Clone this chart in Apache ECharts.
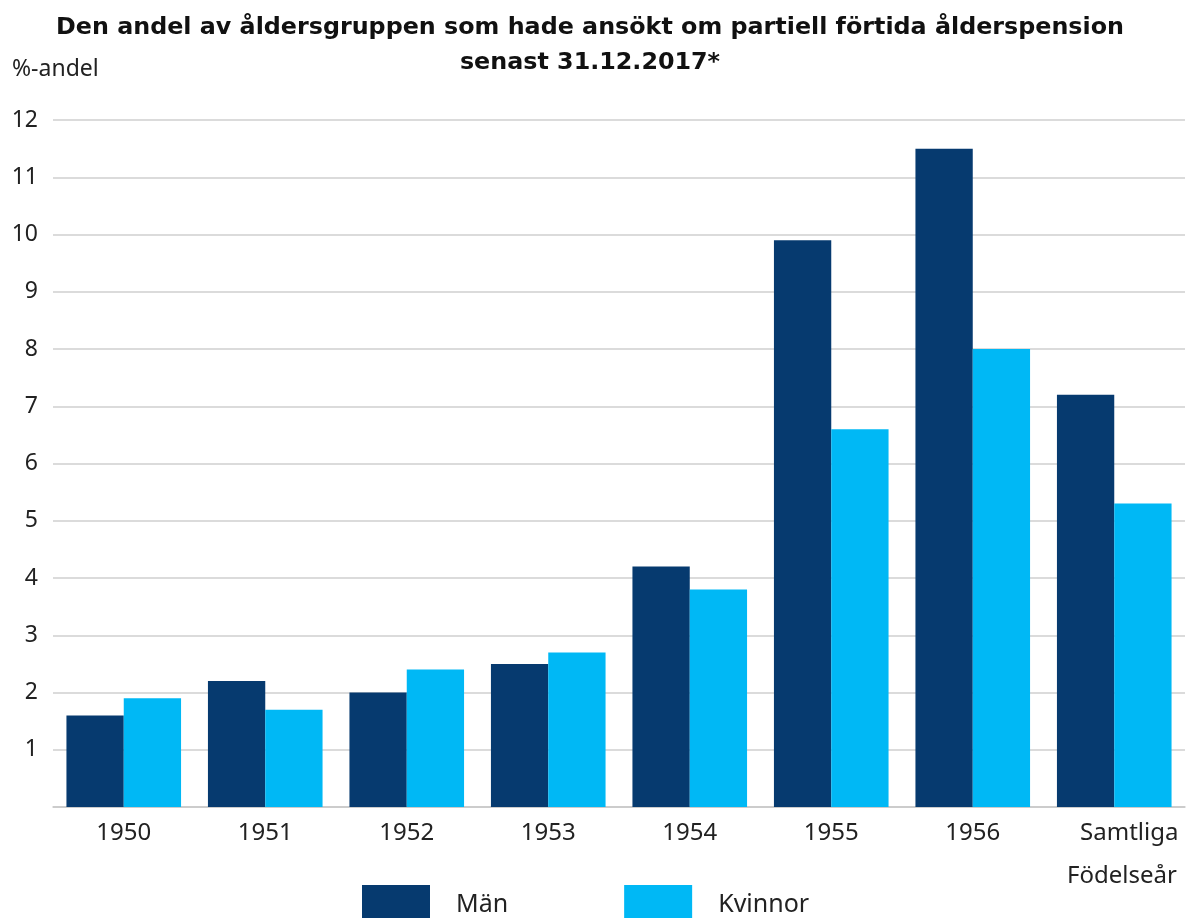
<!DOCTYPE html>
<html>
<head>
<meta charset="utf-8">
<script src="https://cdn.jsdelivr.net/npm/echarts@6/dist/echarts.min.js"></script>
<style>
  html, body { margin: 0; padding: 0; background: #fff; }
  #chart { width: 1187px; height: 918px; }
</style>
</head>
<body>
<div id="chart"></div>
<script>
// födelseår
const years = ['1950', '1951', '1952', '1953', '1954', '1955', '1956', 'Samtliga']
// %-andel
const man = [1.6, 2.2, 2.0, 2.5, 4.2, 9.9, 11.5, 7.2]
const kvinnor = [1.9, 1.7, 2.4, 2.7, 3.8, 6.6, 8.0, 5.3]
const yTicks = [1, 2, 3, 4, 5, 6, 7, 8, 9, 10, 11, 12]

const titleFont = 'Verdana, "DejaVu Sans", sans-serif'
const font = '"Noto Sans", "Open Sans", sans-serif'
const chart = echarts.init(document.getElementById('chart'))

// sista etiketten sitter lite till höger i originalet
const xData = years.map((y, i) =>
  i === years.length - 1 ? { value: y, textStyle: { padding: [0, 0, 0, 30] } } : y,
)

chart.setOption({
  animation: false,
  textStyle: { fontFamily: font },
  title: {
    text: 'Den andel av åldersgruppen som hade ansökt om partiell förtida ålderspension\nsenast 31.12.2017*',
    left: 590,
    textAlign: 'center',
    top: 10,
    padding: 0,
    textStyle: { fontSize: 23.8, fontWeight: 'bold', color: '#111', lineHeight: 35, fontFamily: titleFont },
  },
  legend: {
    left: 362,
    top: 885,
    padding: 0,
    itemWidth: 68,
    itemHeight: 40,
    itemGap: 116,
    icon: 'rect',
    textStyle: { fontSize: 25, color: '#222', padding: [0, 0, 0, 21] },
    data: ['Män', 'Kvinnor'],
  },
  grid: { left: 53, right: 2, top: 120, bottom: 111 },
  xAxis: {
    type: 'category',
    data: xData,
    axisLine: { lineStyle: { color: '#c8c8c8', width: 1.5 } },
    axisTick: { show: false },
    axisLabel: { fontSize: 24, color: '#222', margin: 14 },
  },
  yAxis: {
    type: 'value',
    min: 0,
    max: yTicks[yTicks.length - 1],
    interval: 1,
    axisLine: { show: false },
    axisTick: { show: false },
    splitLine: { lineStyle: { color: '#cfcfcf', width: 1.5 } },
    axisLabel: {
      fontSize: 23,
      color: '#222',
      margin: 15,
      formatter: (v) => (yTicks.includes(v) ? String(v) : ''),
    },
  },
  graphic: [
    { type: 'text', left: 12, top: 58, style: { text: '%-andel', font: '23px ' + font, fill: '#222' } },
    { type: 'text', left: 1067, top: 864, style: { text: 'Födelseår', font: '24px ' + font, fill: '#222' } },
  ],
  series: [
    {
      name: 'Män',
      type: 'bar',
      data: man,
      barGap: '0%',
      barCategoryGap: '19%',
      itemStyle: { color: '#063a6f' },
    },
    {
      name: 'Kvinnor',
      type: 'bar',
      data: kvinnor,
      itemStyle: { color: '#00b8f5' },
    },
  ],
})
</script>
</body>
</html>
